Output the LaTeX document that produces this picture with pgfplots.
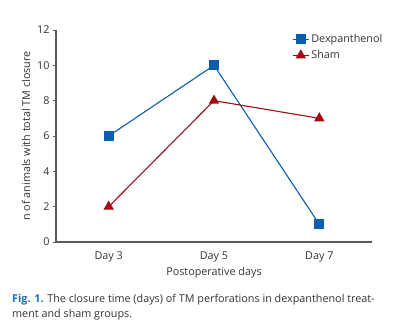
\documentclass[border=0pt]{standalone}
\usepackage{pgfplots}
\pgfplotsset{compat=1.18}
\usepackage{fontspec}
\setmainfont{Open Sans}
\definecolor{dexblue}{HTML}{0B5DAE}
\definecolor{shamred}{HTML}{A30D12}
\definecolor{axisgrey}{HTML}{5A5A5A}
\definecolor{txtgrey}{HTML}{333333}
\definecolor{capblue}{HTML}{1F6DB5}
\newcommand{\lblfont}{\fontsize{10.8}{13}\selectfont}
\begin{document}
\begin{tikzpicture}[x=1pt,y=1pt]
\path[use as bounding box] (0,0) rectangle (402,335);
\begin{axis}[
  at={(56pt,93pt)}, anchor=south west,
  scale only axis, width=316pt, height=212pt,
  xmin=-0.5, xmax=2.5, ymin=0, ymax=12,
  axis x line*=bottom, axis y line*=left,
  axis line style={axisgrey, line width=1.1pt, -},
  xtick={0,1,2}, xticklabels={Day 3,Day 5,Day 7},
  xtick style={draw=none},
  ytick={0,2,...,12},
  ytick style={axisgrey, line width=0.8pt},
  tick align=outside, major tick length=3pt,
  /pgf/number format/assume math mode=true,
  tick label style={font=\lblfont, text=txtgrey},
  xticklabel style={yshift=-3pt},
  xlabel={Postoperative days},
  ylabel={n of animals with total TM closure},
  label style={font=\lblfont, text=txtgrey},
  xlabel style={at={(axis description cs:0.5,0)}, anchor=center, yshift=-31pt},
  ylabel style={at={(axis description cs:-0.095,0.5)}, anchor=center},
  legend style={at={(rel axis cs:0.747,0.99)}, draw=none, fill=none, anchor=north west,
    font=\lblfont, text=txtgrey, row sep=2.5pt,
    legend cell align=left, inner sep=0pt},
  legend image code/.code={
    \draw[#1, mark repeat=2, mark phase=2] plot coordinates {(0pt,0pt) (8pt,0pt) (16pt,0pt)};
  },
  clip=false,
]
\addplot[dexblue, line width=1.1pt, mark=square*, mark size=4.3pt, mark options={solid}]
  coordinates {(0,6) (1,10) (2,1)};
\addlegendentry{Dexpanthenol}
\addplot[shamred, line width=1.1pt, mark=triangle*, mark size=5pt, mark options={solid}]
  coordinates {(0,2) (1,8) (2,7)};
\addlegendentry{Sham}
\end{axis}
\node[anchor=base west, inner sep=0pt, font=\lblfont, text=txtgrey]
  at (12,32.5) {\textcolor{capblue}{\textbf{Fig. 1.}} The closure time (days) of TM perforations in dexpanthenol treat-};
\node[anchor=base west, inner sep=0pt, font=\lblfont, text=txtgrey]
  at (12,17.5) {ment and sham groups.};
\end{tikzpicture}
\end{document}
